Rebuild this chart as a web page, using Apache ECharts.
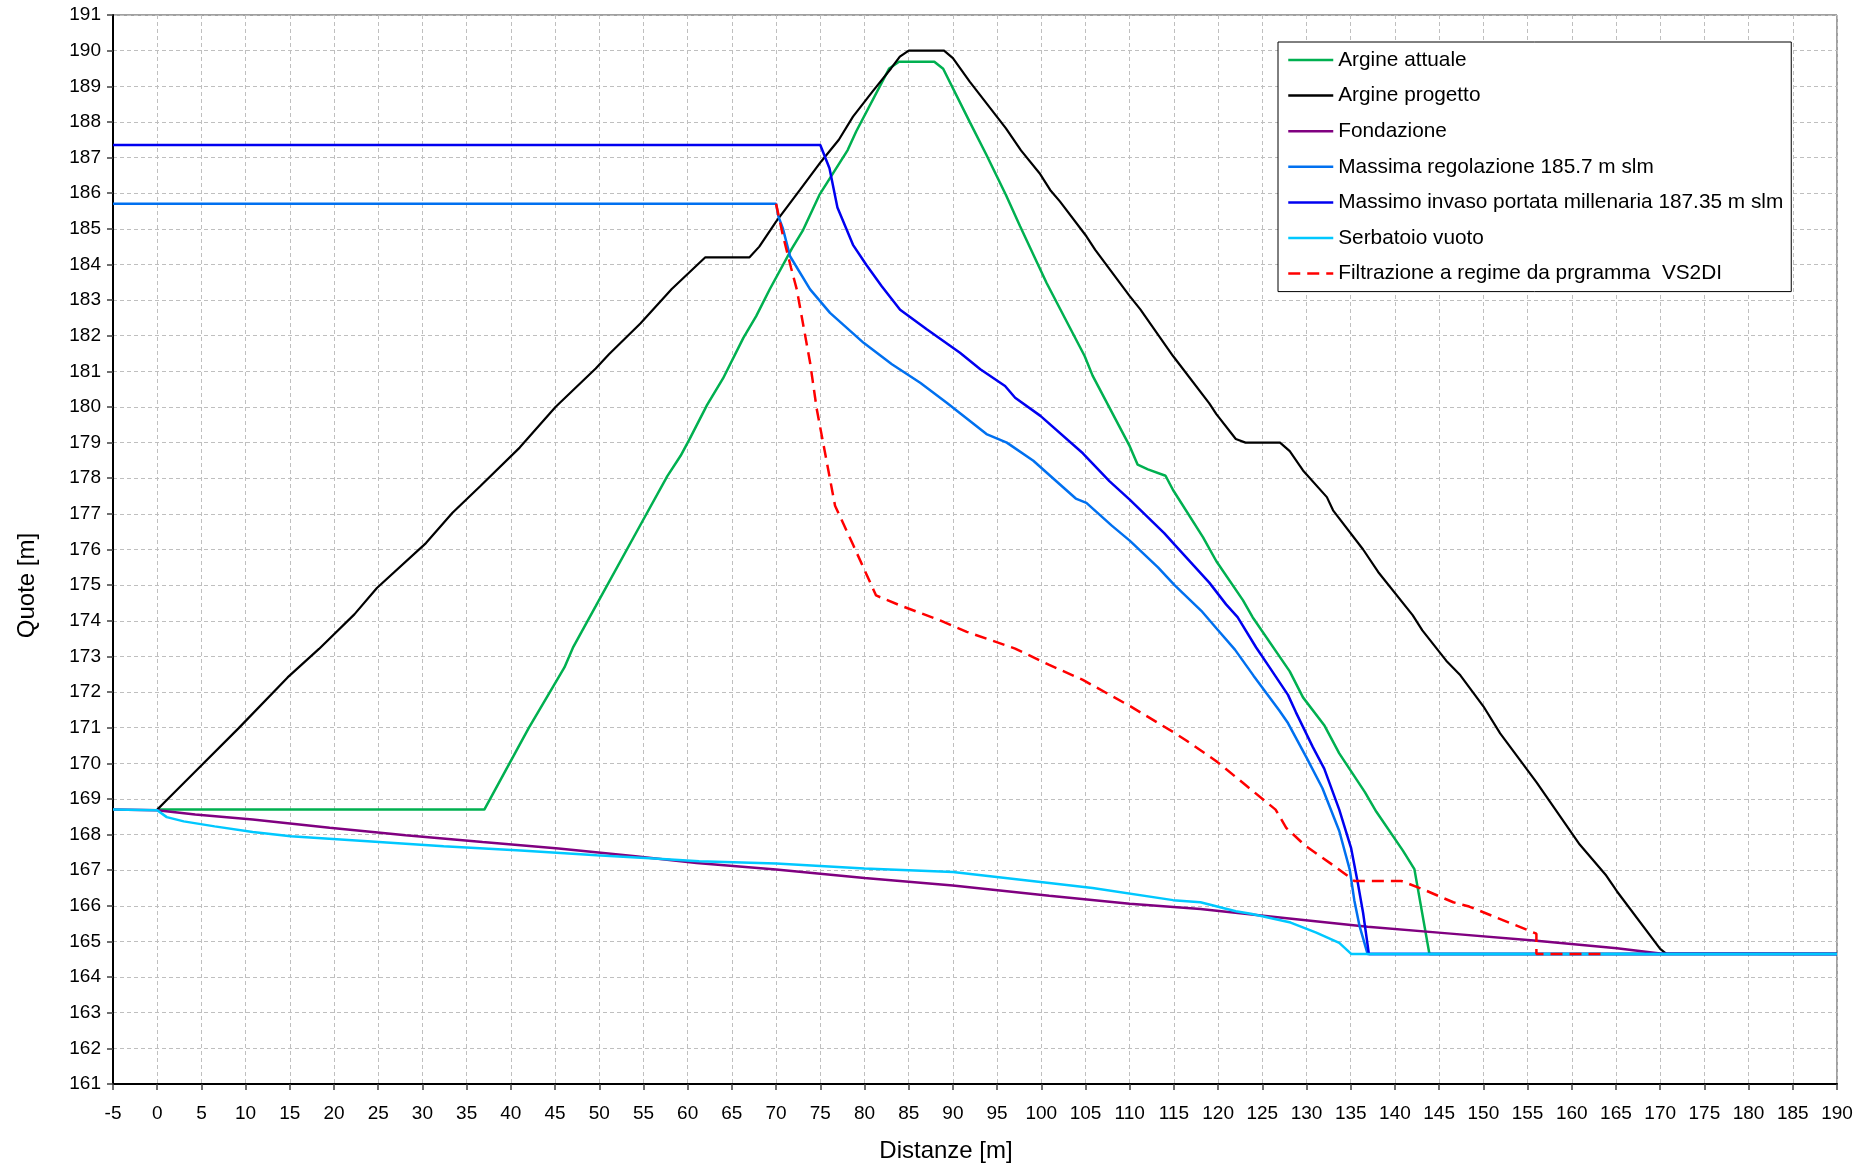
<!DOCTYPE html>
<html>
<head>
<meta charset="utf-8">
<script src="https://cdn.jsdelivr.net/npm/echarts@6/dist/echarts.min.js"></script>
<style>
html,body{margin:0;padding:0;background:#fff;}
#c{width:1875px;height:1168px;}
</style>
</head>
<body>
<div id="c"></div>
<script>
// ---- Data (x = Distanze [m], y = Quote [m]) ----
const xTicks = {min: -5, max: 190, step: 5};
const yTicks = {min: 161, max: 191, step: 1};

const seriesNames = [
  'Argine attuale',
  'Argine progetto',
  'Fondazione',
  'Massima regolazione 185.7 m slm',
  'Massimo invaso portata millenaria 187.35 m slm',
  'Serbatoio vuoto',
  'Filtrazione a regime da prgramma  VS2DI'
];

const argineAttuale = [[0,168.7],[37,168.7],[42.0,170.98],[46.06,172.69],[47.07,173.27],[49.6,174.41],[54.9,176.8],[57.7,178.06],[59.2,178.63],[60.2,179.09],[62.2,180.06],[64.0,180.8],[66.3,181.94],[67.75,182.55],[69.3,183.31],[71.8,184.45],[73.0,184.94],[74.9,185.95],[78.1,187.21],[79.06,187.73],[82.8,189.5],[83.9,189.69],[87.9,189.69],[88.9,189.49],[91.9,188.0],[93.8,187.07],[96.0,185.95],[97.6,185.07],[100.6,183.48],[104.9,181.43],[105.8,180.88],[110.0,178.9],[110.9,178.38],[112.06,178.25],[114.05,178.07],[114.9,177.67],[118.3,176.34],[119.8,175.67],[122.8,174.58],[123.9,174.1],[128.1,172.58],[129.6,171.85],[132.0,171.07],[133.7,170.28],[136.6,169.19],[137.9,168.64],[140.9,167.55],[142.2,167.03],[143.9,164.65],[190,164.65]];

const argineProgetto = [[0,168.7],[1,168.95],[4.14,169.73],[9.19,170.98],[14.75,172.41],[18.3,173.21],[22.3,174.18],[24.85,174.92],[30.4,176.18],[33.4,177.03],[36.5,177.77],[41.0,178.86],[45.05,180.0],[49.6,181.08],[51.1,181.48],[54.65,182.34],[58.2,183.31],[62.0,184.2],[67.0,184.2],[68.1,184.5],[70.0,185.2],[72.7,186.09],[75.1,186.89],[77.1,187.5],[78.7,188.15],[80.9,188.85],[83.0,189.5],[84.0,189.83],[85,190],[89,190],[90.0,189.79],[91.9,189.13],[96.0,187.82],[97.7,187.2],[99.8,186.56],[101.0,186.09],[102.1,185.77],[105.1,184.79],[106.1,184.41],[110.0,183.11],[111.2,182.74],[114.9,181.43],[119.0,180.1],[119.8,179.8],[122.0,179.1],[123.1,179.0],[127.0,179.0],[128.1,178.76],[129.6,178.22],[132.3,177.47],[133.0,177.1],[136.4,176.0],[138.1,175.37],[142.0,174.16],[143.1,173.73],[145.8,172.88],[147.4,172.47],[150.0,171.6],[151.9,170.84],[156.0,169.47],[160.9,167.72],[163.9,166.85],[165.1,166.41],[170.0,164.79],[170.7,164.65],[190,164.65]];

const fondazione = [[-5,168.7],[0,168.68],[4.3,168.56],[10.8,168.42],[19.5,168.19],[28.1,167.98],[36.8,167.79],[45.4,167.61],[54.1,167.39],[61.0,167.2],[70,167.02],[80,166.78],[90,166.57],[100.9,166.28],[110,166.06],[118,165.91],[127.5,165.66],[136.9,165.41],[146.3,165.22],[155.7,165.03],[165.1,164.81],[170,164.66],[190,164.65]];

const massimaRegolazione = [[-5,185.7],[70,185.7],[70.26,185.35],[70.76,185.02],[71.58,184.23],[73.85,183.3],[76.1,182.64],[79.9,181.8],[83.1,181.2],[86.3,180.68],[89.3,180.12],[93.8,179.24],[96.1,179.0],[99.1,178.49],[101.0,178.07],[103.9,177.43],[105.1,177.31],[107.97,176.67],[110.0,176.25],[113.2,175.5],[115.07,175.0],[118.1,174.28],[119.8,173.79],[121.9,173.19],[124.0,172.46],[126.9,171.49],[127.9,171.13],[130.0,170.16],[131.8,169.3],[133.7,168.1],[134.9,167.0],[135.4,166.16],[136.0,165.43],[136.9,164.65],[190,164.65]];

const massimoInvaso = [[-5,187.35],[75,187.35],[76.04,186.7],[76.94,185.6],[78.7,184.55],[80.2,183.99],[81.95,183.39],[84.03,182.73],[87.04,182.18],[90.8,181.52],[93.1,181.06],[95.9,180.59],[97.04,180.26],[99.9,179.75],[104.7,178.7],[107.7,177.92],[110.0,177.4],[113.9,176.46],[115.1,176.13],[119.0,175.07],[120.9,174.46],[122.2,174.1],[124.3,173.25],[125.8,172.7],[127.9,171.92],[128.8,171.43],[130.7,170.46],[132.0,169.85],[133.7,168.7],[135.05,167.61],[135.8,166.64],[136.4,165.8],[137.05,164.65],[190,164.65]];

const serbatoioVuoto = [[-5,168.7],[0,168.68],[1.08,168.49],[3.0,168.37],[6.5,168.23],[10.8,168.07],[15.1,167.95],[23.8,167.81],[32.4,167.67],[41.1,167.55],[49.7,167.42],[56.2,167.33],[61.3,167.25],[70,167.19],[80,167.05],[90,166.95],[100.9,166.64],[105.8,166.5],[114.9,166.16],[118,166.1],[122,165.85],[123.7,165.78],[128.2,165.53],[131.1,165.25],[133.7,164.96],[135.05,164.65],[190,164.65]];

const filtrazione = [[70,185.7],[70.76,184.83],[71.7,183.9],[72.34,183.3],[73.85,181.24],[74.6,179.94],[76.67,177.23],[78.75,176.11],[81.31,174.71],[84.03,174.43],[88.55,174.01],[91.57,173.69],[97.04,173.22],[100.9,172.76],[104.7,172.34],[110.0,171.61],[114.9,170.88],[116.4,170.64],[119.8,170.06],[123.2,169.37],[126.5,168.7],[127.7,168.19],[129.8,167.7],[133.4,167.07],[135.4,166.7],[140.7,166.7],[143.2,166.46],[146.6,166.1],[148.4,165.98],[156.0,165.22],[156.0,164.65],[163.3,164.65]];

const seriesData = [argineAttuale, argineProgetto, fondazione, massimaRegolazione, massimoInvaso, serbatoioVuoto, filtrazione];
const seriesColors = ['#00B050', '#000000', '#800080', '#0070F0', '#0000F0', '#00C8FF', '#FF0000'];

// ---- Chart ----
const FONT = 'Liberation Sans, Arial, sans-serif';
const chart = echarts.init(document.getElementById('c'), null, {renderer: 'canvas'});

const series = seriesNames.map((name, i) => ({
  name: name,
  type: 'line',
  data: seriesData[i],
  symbol: 'none',
  showSymbol: false,
  animation: false,
  color: seriesColors[i],
  lineStyle: {
    color: seriesColors[i],
    width: i === 1 ? 2.2 : 2.5,
    type: i === 6 ? [12, 7] : 'solid'
  },
  z: 2 + i
}));

chart.setOption({
  animation: false,
  backgroundColor: '#ffffff',
  grid: {
    left: 113, right: 38, top: 15, bottom: 81,
    show: true, borderColor: '#404040', borderWidth: 1, backgroundColor: 'transparent'
  },
  legend: {
    orient: 'vertical',
    left: 1278, top: 42,
    backgroundColor: '#ffffff',
    borderColor: '#000000', borderWidth: 1,
    padding: [7.5, 8, 7.5, 9],
    itemWidth: 45, itemHeight: 21, itemGap: 14.6,
    itemStyle: {opacity: 0},
    lineStyle: {width: 2.5},
    textStyle: {fontSize: 20.8, color: '#000', fontFamily: FONT},
    data: seriesNames
  },
  xAxis: {
    type: 'value',
    min: xTicks.min, max: xTicks.max, interval: xTicks.step,
    name: 'Distanze [m]',
    nameLocation: 'middle', nameGap: 55,
    nameTextStyle: {fontSize: 24, color: '#000', fontFamily: FONT, padding: [0, 58, 0, 0]},
    axisLine: {show: true, onZero: false, lineStyle: {color: '#000', width: 2}},
    axisTick: {show: true, length: 6, lineStyle: {color: '#404040', width: 1.5}},
    axisLabel: {fontSize: 19, color: '#000', fontFamily: FONT, margin: 20},
    splitLine: {show: true, lineStyle: {color: '#BFBFBF', width: 1, type: [4, 3]}}
  },
  yAxis: {
    type: 'value',
    min: yTicks.min, max: yTicks.max, interval: yTicks.step,
    name: 'Quote [m]',
    nameLocation: 'middle', nameGap: 74, nameRotate: 90,
    nameTextStyle: {fontSize: 24, color: '#000', fontFamily: FONT, padding: [0, 72, 0, 0]},
    axisLine: {show: true, onZero: false, lineStyle: {color: '#000', width: 2}},
    axisTick: {show: true, length: 6, lineStyle: {color: '#404040', width: 1.5}},
    axisLabel: {fontSize: 19, color: '#000', fontFamily: FONT, margin: 12},
    splitLine: {show: true, lineStyle: {color: '#BFBFBF', width: 1, type: [4, 3]}}
  },
  series: series
});
</script>
</body>
</html>
